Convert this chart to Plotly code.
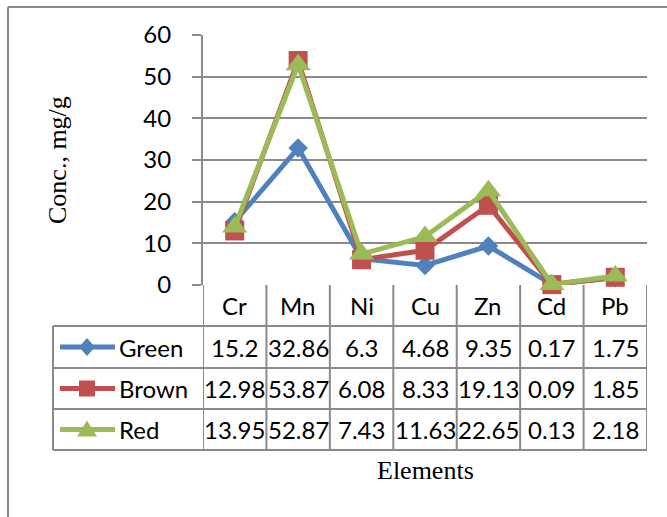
import plotly.graph_objects as go

categories = ["Cr", "Mn", "Ni", "Cu", "Zn", "Cd", "Pb"]
green = [15.2, 32.86, 6.3, 4.68, 9.35, 0.17, 1.75]
brown = [12.98, 53.87, 6.08, 8.33, 19.13, 0.09, 1.85]
red = [13.95, 52.87, 7.43, 11.63, 22.65, 0.13, 2.18]
series_names = ["Green", "Brown", "Red"]
y_ticks = [0, 10, 20, 30, 40, 50, 60]

W, H = 667, 517
L, R, T, B = 203, 20, 35, 232
PW = W - L - R
PH = H - T - B

def px(X):
    return (X - L) / PW

def py(Y):
    return (H - B - Y) / PH

colors = ["#4F81BD", "#C0504D", "#9BBB59"]
symbols = ["diamond", "square", "triangle-up"]
msizes = [15, 19, 22]
GRID = "#8a8a8a"
FONT = "Lato"
FS = 24

fig = go.Figure()
for name, vals, c, s, ms in zip(series_names, [green, brown, red], colors, symbols, msizes):
    fig.add_trace(go.Scatter(
        x=list(range(len(categories))), y=vals, mode="lines+markers", name=name,
        line=dict(color=c, width=5),
        marker=dict(symbol=s, size=ms, color=c, line=dict(width=0)),
        cliponaxis=False, showlegend=False))

shapes = []
annotations = []

def ann(**kw):
    base = dict(showarrow=False, xanchor="center", yanchor="middle")
    base.update(kw)
    annotations.append(base)

# outer chart border (left and top)
shapes.append(dict(type="line", xref="paper", yref="paper", x0=px(8), x1=px(8), y0=py(7), y1=py(517),
                   line=dict(color=GRID, width=2)))
shapes.append(dict(type="line", xref="paper", yref="paper", x0=px(8), x1=px(667), y0=py(7), y1=py(7),
                   line=dict(color=GRID, width=2)))

# data table
row_edges = [326, 368, 409, 450]
tbl_left = 53
for Y in row_edges:
    shapes.append(dict(type="line", xref="paper", yref="paper", x0=px(tbl_left), x1=1, y0=py(Y), y1=py(Y),
                       line=dict(color=GRID, width=2)))
shapes.append(dict(type="line", xref="paper", yref="paper", x0=px(tbl_left), x1=px(tbl_left),
                   y0=py(row_edges[0]), y1=py(row_edges[-1]), line=dict(color=GRID, width=2)))
for i in range(len(categories) + 1):
    shapes.append(dict(type="line", xref="x", yref="paper", x0=i - 0.5, x1=i - 0.5, y0=0, y1=py(row_edges[-1]),
                       line=dict(color=GRID, width=2)))

# header labels
for i, c in enumerate(categories):
    ann(x=i, y=py((H - B + row_edges[0]) / 2), xref="x", yref="paper", text=c,
        font=dict(family=FONT, size=FS, color="black"))

marker_paths = [
    "M -8,0 L 0,9 L 8,0 L 0,-9 Z",
    "M -8,-8 L 8,-8 L 8,8 L -8,8 Z",
    "M -10,-7 L 10,-7 L 0,9 Z",
]

for r, (name, vals, c, mp) in enumerate(zip(series_names, [green, brown, red], colors, marker_paths)):
    yc = py((row_edges[r] + row_edges[r + 1]) / 2)
    for i, v in enumerate(vals):
        ann(x=i, y=yc, xref="x", yref="paper", text=f"{v:g}",
            font=dict(family=FONT, size=FS, color="black"))
    shapes.append(dict(type="line", xref="paper", yref="paper", x0=px(60), x1=px(115), y0=yc, y1=yc,
                       line=dict(color=c, width=5)))
    shapes.append(dict(type="path", xref="paper", yref="paper", xsizemode="pixel", ysizemode="pixel",
                       xanchor=px(87), yanchor=yc, path=mp, fillcolor=c, line=dict(width=0)))
    ann(x=px(117), y=yc, xref="paper", yref="paper", text=name, xanchor="left",
        font=dict(family=FONT, size=FS, color="black"))

ann(x=px(57), y=0.5, xref="paper", yref="paper", text="Conc., mg/g", textangle=-90,
    font=dict(family="Liberation Serif", size=26, color="black"))
ann(x=0.5, y=py(470), xref="paper", yref="paper", text="Elements",
    font=dict(family="Liberation Serif", size=26, color="black"))

fig.update_layout(
    width=W, height=H, margin=dict(l=L, r=R, t=T, b=B),
    paper_bgcolor="white", plot_bgcolor="white",
    xaxis=dict(range=[-0.5, len(categories) - 0.5], showticklabels=False, showgrid=False,
               zeroline=False, showline=False, ticks="", fixedrange=True),
    yaxis=dict(range=[0, 60], tickvals=y_ticks, showgrid=True, gridcolor=GRID, gridwidth=2,
               zeroline=False, showline=True, linecolor=GRID, linewidth=2,
               ticks="outside", ticklen=9, tickcolor=GRID, tickwidth=2,
               tickfont=dict(family=FONT, size=FS, color="black"), ticklabelstandoff=16),
    shapes=shapes, annotations=annotations,
)

fig.write_html("out.html")
